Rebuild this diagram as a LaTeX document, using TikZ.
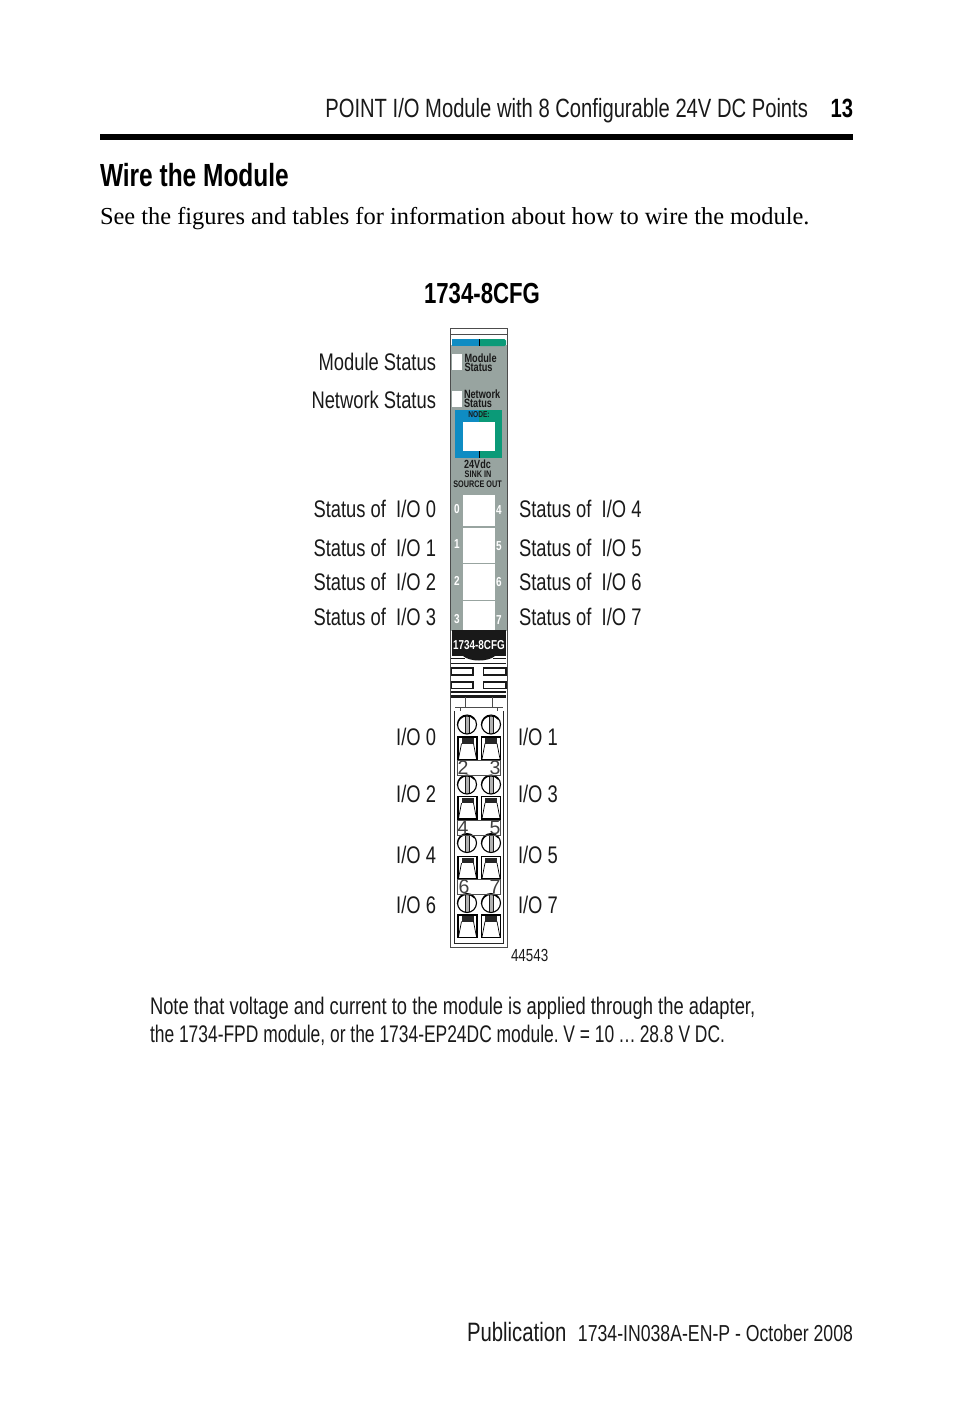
\documentclass[tikz,border=0pt]{standalone}
\usepackage{fontspec}
\setmainfont{Liberation Serif}
\setsansfont{Liberation Sans}[FakeStretch=0.765]
\newfontfamily\stripfont{Liberation Sans}
\newfontfamily\narrowfont{Liberation Sans}[FakeStretch=0.726]
\usetikzlibrary{positioning}
\definecolor{modgray}{HTML}{98A4A0}
\definecolor{modblue}{HTML}{0F8CC3}
\definecolor{modgreen}{HTML}{0B9A78}
\frenchspacing
\begin{document}
\begin{tikzpicture}[
        x=1pt, y=-1pt,
        inner sep=0pt, outer sep=0pt,
        lbl/.style={font=\sffamily\fontsize{24}{24}\selectfont, text=black!90},
        lblL/.style={lbl, anchor=base east},
        lblR/.style={lbl, anchor=base west},
        tiny/.style={font=\sffamily\bfseries\fontsize{12}{9.5}\selectfont, text=black!90, align=left},
        ledNum/.style={font=\sffamily\bfseries\fontsize{13}{13}\selectfont, text=white},
        strip/.style={font=\stripfont\fontsize{19.5}{19.5}\selectfont, text=black!75},
        ledBox/.style={fill=white, draw=none},
        latchBar/.style={draw=black!90, fill=white, line width=1.2pt}
    ]
        \useasboundingbox (0,0) rectangle (954,1406);

        % ---- Page text ----
        \node[anchor=base east, font=\sffamily\fontsize{26.4}{26.4}\selectfont, text=black!90] (header) at (808,117) {POINT I/O Module with 8 Configurable 24V DC Points};
        \node[anchor=base east, font=\sffamily\bfseries\fontsize{26.4}{26.4}\selectfont] (pagenum) at (853,117) {13};
        \fill[black] (100,134) rectangle (853,140);
        \node[anchor=base west, font=\sffamily\bfseries\fontsize{32}{32}\selectfont] (heading) at (100,186.5) {Wire the Module};
        \node[anchor=base west, font=\rmfamily\fontsize{24.4}{24.4}\selectfont] (intro) at (100,224) {See the figures and tables for information about how to wire the module.};
        \node[anchor=base, font=\sffamily\bfseries\fontsize{29}{29}\selectfont] (figtitle) at (482,303) {1734-8CFG};

        % ---- Module body ----
        \draw[black!70, line width=0.8pt] (450.5,328) rectangle (507,947.5);
        \draw[black!70, line width=0.8pt] (450.5,334) -- (507,334);
        \fill[modgray] (451,345) rectangle (506.5,631);
        \fill[modblue] (452,339) rectangle (479,346);
        \fill[modgreen, rounded corners=1.5pt] (479,339) -- (506,339) -- (506,346) -- (479,346) -- cycle;
        \draw[black, line width=0.6pt] (479,339) -- (479,346);

        % ---- Status windows ----
        \fill[ledBox] (452,354) rectangle (462,370);
        \fill[ledBox] (452,391) rectangle (462,407);
        \node[tiny, anchor=west, text width=42pt] (modtxt) at (464.5,362.5) {Module\\Status};
        \node[tiny, anchor=west, text width=42pt] (nettxt) at (464,398.5) {Network\\Status};

        % ---- Node address ----
        \fill[modblue] (455,410) rectangle (479,458);
        \fill[modgreen] (479,410) rectangle (502,458);
        \fill[ledBox] (463,422) rectangle (495,451);
        \draw[black, line width=0.6pt] (479,451) -- (479,458);
        \node[font=\sffamily\bfseries\fontsize{8.6}{8.6}\selectfont, text=black!90] (nodetxt) at (479,415) {NODE:};
        \node[tiny, font=\sffamily\bfseries\fontsize{11.8}{11.8}\selectfont] (volt) at (477.5,464.5) {24Vdc};
        \node[tiny, font=\sffamily\bfseries\fontsize{9.5}{9.5}\selectfont] (sink) at (478,474) {SINK IN};
        \node[tiny, font=\sffamily\bfseries\fontsize{9.5}{9.5}\selectfont] (source) at (477.5,484) {SOURCE OUT};

        % ---- I/O windows ----
        \foreach \ytop/\ybot in {495/526, 528/563, 564/600, 601/630}
            \fill[ledBox] (463,\ytop) rectangle (495,\ybot);
        \foreach \num/\xnum/\ynum in {0/457/509, 1/457/544.5, 2/457/581, 3/457/619, 4/499/510, 5/499/546, 6/499/582, 7/499/620}
            \node[ledNum] (led\num) at (\xnum,\ynum) {\num};

        % ---- Label plate ----
        \fill[black!90] (452,630) rectangle (506,656);
        \node[font=\sffamily\bfseries\fontsize{12.9}{12.9}\selectfont, text=white] (plate) at (479,645.5) {1734-8CFG};

        % ---- Latch ----
        \fill[black!90] (463,656) .. controls (470,662) and (488,662) .. (495,656) -- cycle;
        \draw[black!90, line width=1pt] (451,658) -- (465,658) (493,658) -- (506,658);
        \draw[black!90, line width=1.1pt] (451,663.5) -- (506,663.5);
        \draw[latchBar] (451.5,668) rectangle (473,675);
        \draw[latchBar] (451.5,682) rectangle (473,688.5);
        \draw[latchBar] (483.5,668) rectangle (506,675);
        \draw[latchBar] (483.5,682) rectangle (506,688.5);
        \fill[black!90] (451,691) rectangle (506,693);
        \fill[black!90] (451,695) rectangle (506,697.5);
        \draw[black!70, line width=0.7pt] (465,697) -- (465,708) (492,697) -- (492,708);
        \draw[black!70, line width=0.7pt] (455,707) -- (503,707);
        \draw[black!70, line width=0.7pt] (460,707) -- (460,711) (497,707) -- (497,711);

        % ---- Terminal block ----
        \draw[black!85, line width=0.9pt] (454.5,711) -- (454.5,943.5) -- (503.5,943.5) -- (503.5,711);
        \foreach \sy/\ty in {724.5/737, 784.5/796.5, 843/856.5, 903/915} {
            \foreach \cx/\tx in {467/467.5, 491/491} {
                \fill[black!30] (\cx-2,\sy-9) rectangle (\cx+2,\sy+9);
                \draw[black!90, line width=0.7pt] (\cx-2,\sy-9) -- (\cx-2,\sy+9) (\cx+2,\sy-9) -- (\cx+2,\sy+9);
                \draw[black, line width=1.1pt] (\cx,\sy) circle (9.5);
                \draw[black, line width=1.1pt] (\cx-9.6,\sy+1) arc (180:320:9.6);
                \draw[black, line width=1.2pt] (\tx-9.5,\ty) rectangle (\tx+9.5,\ty+22.5);
                \fill[black!85] (\tx-6,\ty+1) rectangle (\tx+6,\ty+6.5);
                \draw[black, line width=0.7pt] (\tx-6,\ty+6.5) -- (\tx-9,\ty+22) (\tx+6,\ty+6.5) -- (\tx+9,\ty+22);
            }
        }
        \foreach \sy/\lnum/\rnum/\lx/\name in {760.5/2/3/457.5/a, 820/4/5/457.5/b, 879/6/7/458.5/c} {
            \draw[black!70, line width=0.6pt] (457,\sy) rectangle (500.5,\sy+15);
            \node[strip, anchor=west] (nl\name) at (\lx,\sy+7.5) {\lnum};
            \node[strip, anchor=east] (nr\name) at (500.5,\sy+7.5) {\rnum};
        }

        % ---- Callouts ----
        \node[lblL] (modst) at (436,370) {Module Status};
        \node[lblL] (netst) at (436,408) {Network Status};
        \foreach \by/\a/\b in {517/0/4, 556/1/5, 590/2/6, 625/3/7} {
            \node[lblL] (sl\a) at (436,\by) {Status of\ \ I/O \a};
            \node[lblR] (sr\b) at (519,\by) {Status of\ \ I/O \b};
        }
        \foreach \by/\a/\b in {745/0/1, 802/2/3, 863/4/5, 913/6/7} {
            \node[lblL] (ioL\a) at (436,\by) {I/O \a};
            \node[lblR] (ioR\b) at (518,\by) {I/O \b};
        }
        \node[anchor=base west, font=\sffamily\fontsize{17.5}{17.5}\selectfont, text=black!90] (fignum) at (511,961) {44543};

        % ---- Note and footer ----
        \node[lbl, anchor=base west] (note1) at (150,1014.5) {Note that voltage and current to the module is applied through the adapter,};
        \node[lbl, anchor=base west, font=\narrowfont\fontsize{24}{24}\selectfont] (note2) at (150,1042.5) {the 1734-FPD module, or the 1734-EP24DC module. V = 10\,\dots\,28.8 V DC.};
        \node[anchor=base west, font=\sffamily\fontsize{26.6}{26.6}\selectfont, text=black!90] (pub) at (467,1341) {Publication};
        \node[anchor=base east, font=\sffamily\fontsize{23.1}{23.1}\selectfont, text=black!90] (pubid) at (853,1341) {1734-IN038A-EN-P - October 2008};
    \end{tikzpicture}
\end{document}
